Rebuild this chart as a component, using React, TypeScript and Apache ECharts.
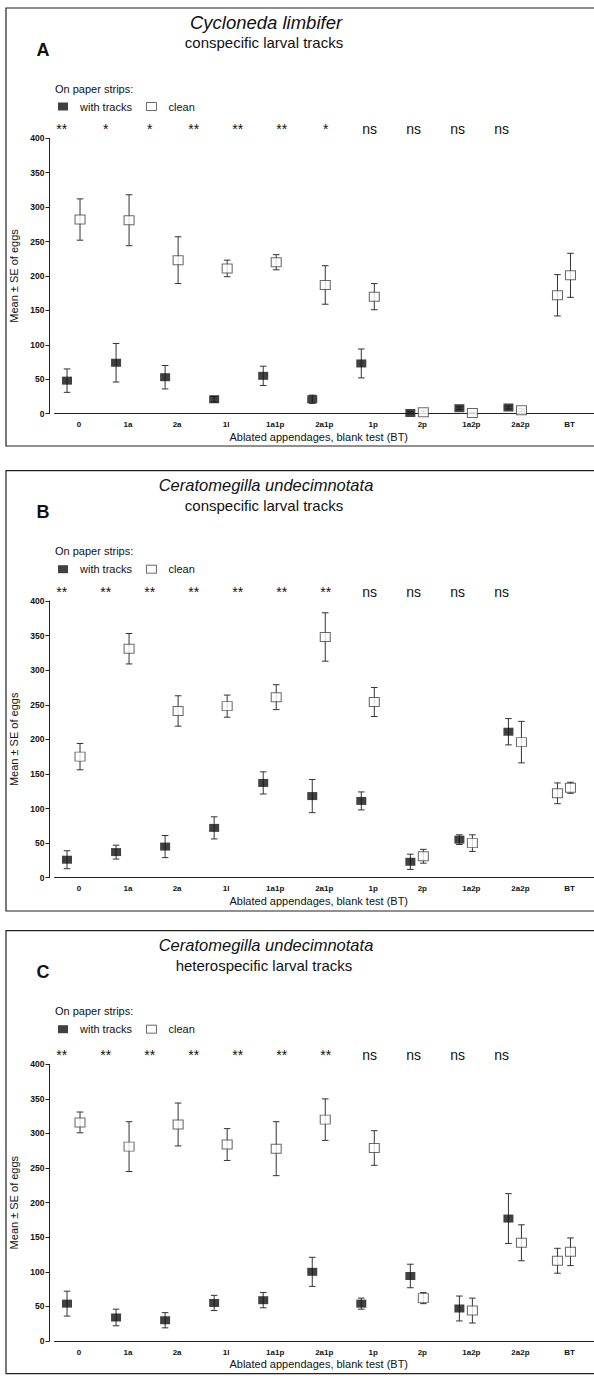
import React, { useEffect, useRef } from 'react';
import * as echarts from 'echarts';

// ---------- data ----------
const categories = ['0', '1a', '2a', '1l', '1a1p', '2a1p', '1p', '2p', '1a2p', '2a2p', 'BT'];

const sigA = ['**', '*', '*', '**', '**', '**', '*', 'ns', 'ns', 'ns', 'ns'];
const sigB = ['**', '**', '**', '**', '**', '**', '**', 'ns', 'ns', 'ns', 'ns'];
const sigC = ['**', '**', '**', '**', '**', '**', '**', 'ns', 'ns', 'ns', 'ns'];

// Panel A: Cycloneda limbifer, conspecific larval tracks
const tracksMeanA = [48, 74, 53, 21, 55, 21, 73, 1, 8, 9, 172];
const tracksSeA = [17, 28, 17, 4, 14, 6, 21, 2, 2, 2, 30];
const cleanMeanA = [282, 281, 223, 211, 220, 187, 170, 2, 1, 5, 201];
const cleanSeA = [30, 37, 34, 12, 11, 28, 19, 2, 1, 2, 32];

// Panel B: Ceratomegilla undecimnotata, conspecific larval tracks
const tracksMeanB = [26, 37, 45, 72, 137, 118, 111, 23, 55, 211, 122];
const tracksSeB = [13, 10, 16, 16, 16, 24, 13, 11, 7, 19, 15];
const cleanMeanB = [175, 331, 241, 248, 261, 348, 254, 31, 50, 196, 130];
const cleanSeB = [19, 22, 22, 16, 18, 35, 21, 10, 12, 30, 8];

// Panel C: Ceratomegilla undecimnotata, heterospecific larval tracks
const tracksMeanC = [54, 34, 30, 55, 59, 100, 54, 94, 47, 177, 116];
const tracksSeC = [18, 12, 11, 11, 11, 21, 8, 17, 18, 36, 18];
const cleanMeanC = [316, 281, 313, 284, 278, 320, 279, 62, 44, 142, 129];
const cleanSeC = [15, 36, 31, 23, 39, 30, 25, 8, 18, 26, 20];

const panelLetters = ['A', 'B', 'C'];
const panelTitles = ['Cycloneda limbifer', 'Ceratomegilla undecimnotata', 'Ceratomegilla undecimnotata'];
const panelSubtitles = ['conspecific larval tracks', 'conspecific larval tracks', 'heterospecific larval tracks'];
const legendHeading = 'On paper strips:';
const seriesNames = ['with tracks', 'clean'];
const yAxisName = 'Mean ± SE of eggs';
const xAxisName = 'Ablated appendages, blank test (BT)';
const yMin = 0;
const yMax = 400;
const yStep = 50;

// ---------- layout ----------
const W = 594;
const H = 1376;
const FONT = "'Liberation Sans', Arial, sans-serif";
const panelTop = [8, 470.7, 930.7];
const frameHeight = [438, 440.3, 443];
const gridTop = [138.3, 601, 1064.3];
const gridHeight = [275.4, 276.7, 276.7];
const titleSize = [18.5, 16.5, 16.5];
const GRID_LEFT = 54.5;
const GRID_WIDTH = 546.4;
const TRACK_DX = -12;
const CLEAN_DX = 1;

const panels = [
  { sig: sigA, tm: tracksMeanA, ts: tracksSeA, cm: cleanMeanA, cs: cleanSeA },
  { sig: sigB, tm: tracksMeanB, ts: tracksSeB, cm: cleanMeanB, cs: cleanSeB },
  { sig: sigC, tm: tracksMeanC, ts: tracksSeC, cm: cleanMeanC, cs: cleanSeC },
];

const openStyle = { color: '#ffffff', borderColor: '#444', borderWidth: 1 };
const filledStyle = { color: '#111111', borderColor: '#111111', borderWidth: 0 };

function errorSeries(means: number[], ses: number[], dx: number, gi: number) {
  return {
    type: 'custom',
    xAxisIndex: gi,
    yAxisIndex: gi,
    z: 1,
    silent: true,
    data: means.map((m, i) => [i, Math.max(0, m - ses[i]), m + ses[i]]),
    encode: { x: 0, y: [1, 2] },
    renderItem: (params: any, api: any) => {
      const lo = api.coord([api.value(0), api.value(1)]);
      const hi = api.coord([api.value(0), api.value(2)]);
      const x = lo[0] + dx;
      const c = 3.3;
      const st = { stroke: '#333', lineWidth: 1 };
      return {
        type: 'group',
        children: [
          { type: 'line', shape: { x1: x, y1: lo[1], x2: x, y2: hi[1] }, style: st },
          { type: 'line', shape: { x1: x - c, y1: hi[1], x2: x + c, y2: hi[1] }, style: st },
          { type: 'line', shape: { x1: x - c, y1: lo[1], x2: x + c, y2: lo[1] }, style: st },
        ],
      };
    },
  };
}

function buildOption() {
  const grid: any[] = [];
  const xAxis: any[] = [];
  const yAxis: any[] = [];
  const series: any[] = [];
  const legend: any[] = [];
  const graphic: any[] = [];

  panels.forEach((p, gi) => {
    const T = panelTop[gi];
    grid.push({ left: GRID_LEFT, width: GRID_WIDTH, top: gridTop[gi], height: gridHeight[gi] });
    xAxis.push({
      type: 'category',
      gridIndex: gi,
      data: categories,
      boundaryGap: true,
      axisLine: { lineStyle: { color: '#222', width: 1 } },
      axisTick: { show: false },
      axisLabel: { color: '#111', fontSize: 8, fontWeight: 'bold', fontFamily: FONT, margin: 7, interval: 0 },
      name: xAxisName,
      nameLocation: 'middle',
      nameGap: 17.5,
      nameTextStyle: { color: '#111', fontSize: 11, fontFamily: FONT, padding: [0, 11, 0, 0] },
    });
    yAxis.push({
      type: 'value',
      gridIndex: gi,
      min: yMin,
      max: yMax,
      interval: yStep,
      offset: 5,
      axisLine: { show: true, lineStyle: { color: '#222', width: 1 } },
      axisTick: { show: true, length: 4, lineStyle: { color: '#222' } },
      splitLine: { show: false },
      axisLabel: { color: '#111', fontSize: 8.5, fontWeight: 'bold', fontFamily: FONT, margin: 5 },
      name: yAxisName,
      nameLocation: 'middle',
      nameGap: 27,
      nameTextStyle: { color: '#111', fontSize: 11, fontFamily: FONT },
    });

    series.push(errorSeries(p.tm, p.ts, TRACK_DX, gi));
    series.push(errorSeries(p.cm, p.cs, CLEAN_DX, gi));
    series.push({
      type: 'scatter',
      name: seriesNames[0],
      xAxisIndex: gi,
      yAxisIndex: gi,
      z: 3,
      symbol: 'rect',
      symbolSize: [10, 8],
      symbolOffset: [TRACK_DX, 0],
      itemStyle: filledStyle,
      data: p.tm.map((m, i) =>
        categories[i] === 'BT' ? { value: [i, m], itemStyle: openStyle, symbolSize: [10, 9] } : { value: [i, m] }
      ),
    });
    series.push({
      type: 'scatter',
      name: seriesNames[1],
      xAxisIndex: gi,
      yAxisIndex: gi,
      z: 3,
      symbol: 'rect',
      symbolSize: [10, 9],
      symbolOffset: [CLEAN_DX, 0],
      itemStyle: openStyle,
      data: p.cm.map((m, i) => [i, m]),
    });

    legend.push({
      left: 58,
      top: T + 100 - 7,
      padding: 0,
      orient: 'horizontal',
      itemWidth: 10,
      itemHeight: 8,
      itemGap: 14,
      selectedMode: false,
      textStyle: { color: '#111', fontSize: 11, fontFamily: FONT, padding: [0, 0, 0, 7] },
      data: [
        { name: seriesNames[0], icon: 'rect', itemStyle: filledStyle },
        { name: seriesNames[1], icon: 'rect', itemStyle: openStyle },
      ],
    });

    // frame
    graphic.push({
      type: 'rect',
      shape: { x: 6, y: T, width: 620, height: frameHeight[gi] },
      style: { fill: 'none', stroke: '#222', lineWidth: 1.2 },
      z: 0,
    });
    graphic.push({
      type: 'text', x: 266, y: T + 14.5,
      style: { text: panelTitles[gi], fontSize: titleSize[gi], fontStyle: 'italic', fontFamily: FONT, fill: '#111', align: 'center', verticalAlign: 'middle' },
    });
    graphic.push({
      type: 'text', x: 264, y: T + 34.5,
      style: { text: panelSubtitles[gi], fontSize: 15, fontFamily: FONT, fill: '#111', align: 'center', verticalAlign: 'middle' },
    });
    graphic.push({
      type: 'text', x: 43, y: T + 41.5,
      style: { text: panelLetters[gi], fontSize: 18, fontWeight: 'bold', fontFamily: FONT, fill: '#111', align: 'center', verticalAlign: 'middle' },
    });
    graphic.push({
      type: 'text', x: 55, y: T + 80.7,
      style: { text: legendHeading, fontSize: 11, fontFamily: FONT, fill: '#111', align: 'left', verticalAlign: 'middle' },
    });
    p.sig.forEach((s, i) => {
      graphic.push({
        type: 'text', x: 61.7 + i * 44, y: gridTop[gi] - 9,
        style: { text: s, fontSize: 14, fontFamily: FONT, fill: '#111', align: 'center', verticalAlign: 'middle' },
      });
    });
  });

  return { animation: false, backgroundColor: '#ffffff', grid, xAxis, yAxis, series, legend, graphic };
}

export default function App() {
  const ref = useRef<HTMLDivElement>(null);
  useEffect(() => {
    if (!ref.current) return;
    const chart = echarts.init(ref.current, undefined, { renderer: 'svg', width: W, height: H });
    chart.setOption(buildOption() as any);
    return () => chart.dispose();
  }, []);
  return <div ref={ref} style={{ position: 'absolute', left: 0, top: 0, width: W, height: H }} />;
}
